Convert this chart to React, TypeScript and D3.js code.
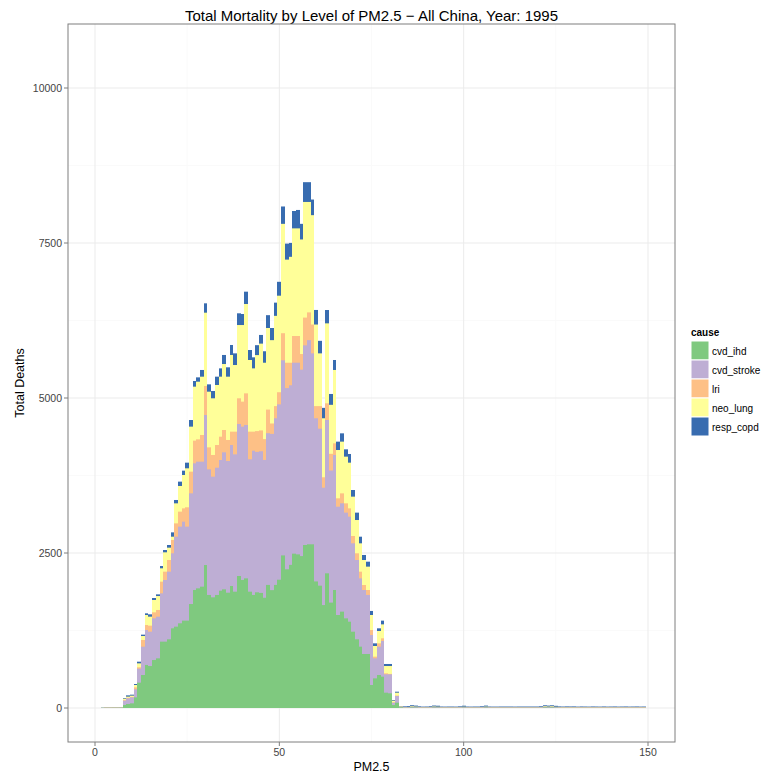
import React from "react";
import * as d3 from "d3";

// PM2.5 bins (width 1, centred on each integer) and deaths per cause
const bins: number[] = d3.range(1, 150);

const causes = ["cvd_ihd", "cvd_stroke", "lri", "neo_lung", "resp_copd"];
const causeColors = ["#7FC97F", "#BEAED4", "#FDC086", "#FFFF99", "#386CB0"];

const cvdIhd = [
  0, 2, 3, 3, 4, 4, 5, 48, 65, 75,
  172, 409, 532, 694, 677, 774, 801, 1070, 1070, 1108,
  1285, 1312, 1366, 1409, 1409, 1677, 1903, 1930, 1957, 2306,
  1823, 1785, 1823, 1892, 1914, 1860, 1968, 1876, 2129, 2065,
  2091, 1876, 1823, 1866, 1856, 1778, 1985, 1901, 1985, 2069,
  2461, 2237, 2309, 2489, 2478, 2450, 2629, 2640, 2640, 2041,
  1973, 1660, 2172, 1700, 1903, 1500, 1554, 1446, 1392, 1231,
  1108, 989, 871, 871, 371, 478, 532, 505, 247, 237,
  48, 86, 10, 3, 4, 8, 6, 3, 2, 2,
  3, 6, 5, 2, 2, 2, 2, 2, 3, 5,
  2, 2, 2, 2, 3, 6, 2, 2, 2, 2,
  2, 2, 2, 2, 2, 2, 2, 2, 2, 2,
  3, 8, 6, 8, 5, 3, 2, 2, 2, 2,
  1, 1, 1, 1, 1, 1, 1, 1, 1, 1,
  1, 1, 1, 1, 1, 1, 1, 1, 1,
];

const cvdStroke = [
  0, 2, 3, 3, 3, 4, 5, 70, 91, 97,
  129, 225, 457, 564, 554, 672, 672, 779, 995, 1091,
  1210, 1451, 1559, 1596, 1516, 1785, 2043, 2043, 2016, 2420,
  2026, 1946, 2053, 2108, 2210, 2124, 2274, 2215, 2452, 2473,
  2474, 2135, 2327, 2265, 2285, 2223, 2447, 2520, 2688, 2828,
  3147, 2923, 2896, 3080, 3091, 3007, 3220, 3293, 3080, 2632,
  2532, 1893, 2473, 2130, 2178, 1747, 1747, 1705, 1694, 1425,
  1279, 1102, 1032, 952, 806, 323, 457, 576, 296, 306,
  38, 108, 8, 6, 6, 9, 8, 6, 5, 5,
  6, 9, 8, 5, 5, 5, 5, 5, 6, 8,
  5, 5, 5, 5, 6, 8, 5, 5, 5, 5,
  5, 5, 5, 5, 5, 5, 5, 5, 5, 5,
  6, 9, 8, 9, 7, 5, 4, 4, 4, 4,
  4, 4, 4, 4, 4, 4, 4, 4, 4, 4,
  4, 4, 4, 4, 4, 4, 4, 4, 4,
];

const lri = [
  0, 0, 1, 1, 1, 1, 1, 7, 9, 8,
  32, 22, 108, 81, 97, 97, 108, 189, 134, 188,
  215, 215, 242, 215, 312, 350, 366, 360, 430, 468,
  355, 350, 366, 376, 360, 339, 215, 366, 414, 403,
  510, 446, 307, 335, 336, 336, 381, 168, 196, 196,
  437, 409, 364, 431, 431, 252, 448, 448, 465, 196,
  364, 168, 269, 270, 188, 135, 161, 150, 134, 118,
  108, 108, 81, 80, 81, 27, 54, 43, 16, 7,
  4, 6, 2, 1, 1, 2, 2, 1, 1, 1,
  1, 2, 2, 1, 1, 1, 1, 1, 1, 2,
  1, 1, 1, 1, 1, 2, 1, 1, 1, 1,
  1, 1, 1, 1, 1, 1, 1, 1, 1, 1,
  1, 2, 2, 2, 2, 1, 2, 2, 2, 2,
  2, 2, 2, 2, 2, 2, 2, 2, 2, 2,
  2, 2, 2, 2, 2, 2, 2, 2, 2,
];

const neoLung = [
  0, 1, 1, 1, 2, 2, 2, 25, 18, 19,
  38, 64, 64, 161, 145, 199, 225, 215, 312, 199,
  53, 323, 414, 538, 629, 726, 871, 930, 941, 1182,
  898, 914, 968, 968, 1064, 1021, 1237, 1075, 1182, 1236,
  1441, 1156, 1021, 1226, 1400, 1232, 1316, 1344, 1456, 1557,
  1764, 1663, 1708, 1736, 1736, 1848, 1865, 1781, 1764, 1316,
  851, 952, 1290, 790, 1183, 779, 834, 753, 737, 635,
  537, 457, 403, 377, 242, 172, 199, 225, 118, 127,
  28, 47, 4, 3, 3, 8, 7, 3, 2, 2,
  3, 7, 6, 2, 2, 2, 2, 2, 3, 6,
  2, 2, 2, 2, 3, 7, 2, 2, 2, 2,
  2, 2, 2, 2, 2, 2, 2, 2, 2, 2,
  3, 9, 7, 9, 6, 3, 4, 4, 4, 4,
  4, 4, 4, 4, 4, 4, 4, 4, 4, 4,
  4, 4, 4, 4, 4, 4, 4, 4, 4,
];

const respCopd = [
  0, 1, 1, 1, 1, 2, 2, 10, 21, 16,
  16, 27, 22, 27, 38, 32, 27, 37, 37, 43,
  70, 54, 70, 70, 91, 107, 91, 70, 108, 151,
  118, 118, 134, 134, 146, 151, 161, 188, 189, 178,
  199, 161, 178, 160, 140, 185, 207, 196, 213, 224,
  280, 258, 224, 280, 297, 252, 319, 319, 252, 235,
  202, 168, 215, 175, 161, 135, 134, 118, 140, 107,
  119, 107, 81, 80, 65, 43, 43, 60, 33, 33,
  11, 16, 6, 14, 16, 18, 16, 14, 13, 14,
  15, 16, 16, 14, 13, 14, 14, 13, 14, 16,
  14, 13, 14, 14, 15, 16, 14, 13, 13, 14,
  14, 14, 14, 13, 14, 14, 14, 14, 14, 14,
  15, 16, 16, 16, 15, 14, 12, 14, 13, 14,
  12, 14, 13, 12, 14, 13, 12, 14, 12, 13,
  14, 12, 13, 14, 12, 13, 14, 12, 13,
];

const xMajorTicks = [0, 50, 100, 150];
const xMinorTicks = [25, 75, 125];
const yMajorTicks = [0, 2500, 5000, 7500, 10000];
const yMinorTicks = [1250, 3750, 6250, 8750];

const W = 769;
const H = 775;
const panel = { left: 68, right: 675, top: 24, bottom: 742 };
const FONT = "'Liberation Sans', Arial, Helvetica, sans-serif";

export default function App() {
  const x = d3.scaleLinear().domain([0, 150]).range([95, 648]);
  const y = d3.scaleLinear().domain([0, 10000]).range([708, 88]);

  const series = [cvdIhd, cvdStroke, lri, neoLung, respCopd];
  const rows = bins.map((b, i) => {
    const r: Record<string, number> = { bin: b };
    causes.forEach((c, k) => (r[c] = series[k][i]));
    return r;
  });
  const stacked = d3.stack<Record<string, number>>().keys(causes)(rows);
  // paint the topmost cause first; each segment is filled down to the
  // baseline so neighbouring segments never leave a seam between them
  const paintOrder = stacked.map((layer, k) => ({ layer, k })).reverse();

  const legendX = 691;
  const legendY = 341;
  const keySize = 19;

  return (
    <svg
      width={W}
      height={H}
      style={{ position: "absolute", left: 0, top: 0, background: "#fff" }}
      fontFamily={FONT}
    >
      <rect x={0} y={0} width={W} height={H} fill="#fff" />
      {/* title */}
      <text x={(panel.left + panel.right) / 2} y={20.5} textAnchor="middle" fontSize={15} fill="#000">
        Total Mortality by Level of PM2.5 − All China, Year: 1995
      </text>

      {/* panel background and grid */}
      <rect x={panel.left} y={panel.top} width={panel.right - panel.left} height={panel.bottom - panel.top} fill="#fff" />
      {xMinorTicks.map((t) => (
        <line key={"xm" + t} x1={x(t)} x2={x(t)} y1={panel.top} y2={panel.bottom} stroke="#FAFAFA" strokeWidth={1} />
      ))}
      {yMinorTicks.map((t) => (
        <line key={"ym" + t} x1={panel.left} x2={panel.right} y1={y(t)} y2={y(t)} stroke="#FAFAFA" strokeWidth={1} />
      ))}
      {xMajorTicks.map((t) => (
        <line key={"xM" + t} x1={x(t)} x2={x(t)} y1={panel.top} y2={panel.bottom} stroke="#EBEBEB" strokeWidth={1} />
      ))}
      {yMajorTicks.map((t) => (
        <line key={"yM" + t} x1={panel.left} x2={panel.right} y1={y(t)} y2={y(t)} stroke="#EBEBEB" strokeWidth={1} />
      ))}

      {/* stacked histogram bars */}
      {paintOrder.map(({ layer, k }) => (
        <g key={layer.key} fill={causeColors[k]}>
          {layer.map((d, i) => {
            if (d[1] - d[0] <= 0) return null;
            const b = bins[i];
            const x0 = Math.round(x(b - 0.5));
            const x1 = Math.round(x(b + 0.5));
            return (
              <rect
                key={i}
                x={x0}
                y={y(d[1])}
                width={x1 - x0}
                height={y(0) - y(d[1])}
              />
            );
          })}
        </g>
      ))}

      {/* panel border */}
      <rect
        x={panel.left}
        y={panel.top}
        width={panel.right - panel.left}
        height={panel.bottom - panel.top}
        fill="none"
        stroke="#7F7F7F"
        strokeWidth={1}
      />

      {/* y axis */}
      {yMajorTicks.map((t) => (
        <g key={"yt" + t}>
          <line x1={panel.left - 4} x2={panel.left} y1={y(t)} y2={y(t)} stroke="#7F7F7F" />
          <text x={panel.left - 6} y={y(t) + 3.6} textAnchor="end" fontSize={10.5} fill="#444">
            {t}
          </text>
        </g>
      ))}
      {/* x axis */}
      {xMajorTicks.map((t) => (
        <g key={"xt" + t}>
          <line x1={x(t)} x2={x(t)} y1={panel.bottom} y2={panel.bottom + 4} stroke="#7F7F7F" />
          <text x={x(t)} y={panel.bottom + 14} textAnchor="middle" fontSize={10.5} fill="#444">
            {t}
          </text>
        </g>
      ))}
      <text x={(panel.left + panel.right) / 2} y={771} textAnchor="middle" fontSize={12.5} fill="#000">
        PM2.5
      </text>
      <text
        transform={`translate(24, ${(panel.top + panel.bottom) / 2}) rotate(-90)`}
        textAnchor="middle"
        fontSize={12.5}
        fill="#000"
      >
        Total Deaths
      </text>

      {/* legend */}
      <text x={legendX} y={legendY - 5} fontSize={10} fontWeight="bold" fill="#000">
        cause
      </text>
      {causes.map((c, k) => (
        <g key={c}>
          <rect
            x={legendX}
            y={legendY + k * keySize}
            width={18}
            height={keySize}
            fill={causeColors[k]}
            stroke="#fff"
            strokeWidth={1}
          />
          <text x={legendX + 21} y={legendY + k * keySize + 13.5} fontSize={10} fill="#000">
            {c}
          </text>
        </g>
      ))}
    </svg>
  );
}
